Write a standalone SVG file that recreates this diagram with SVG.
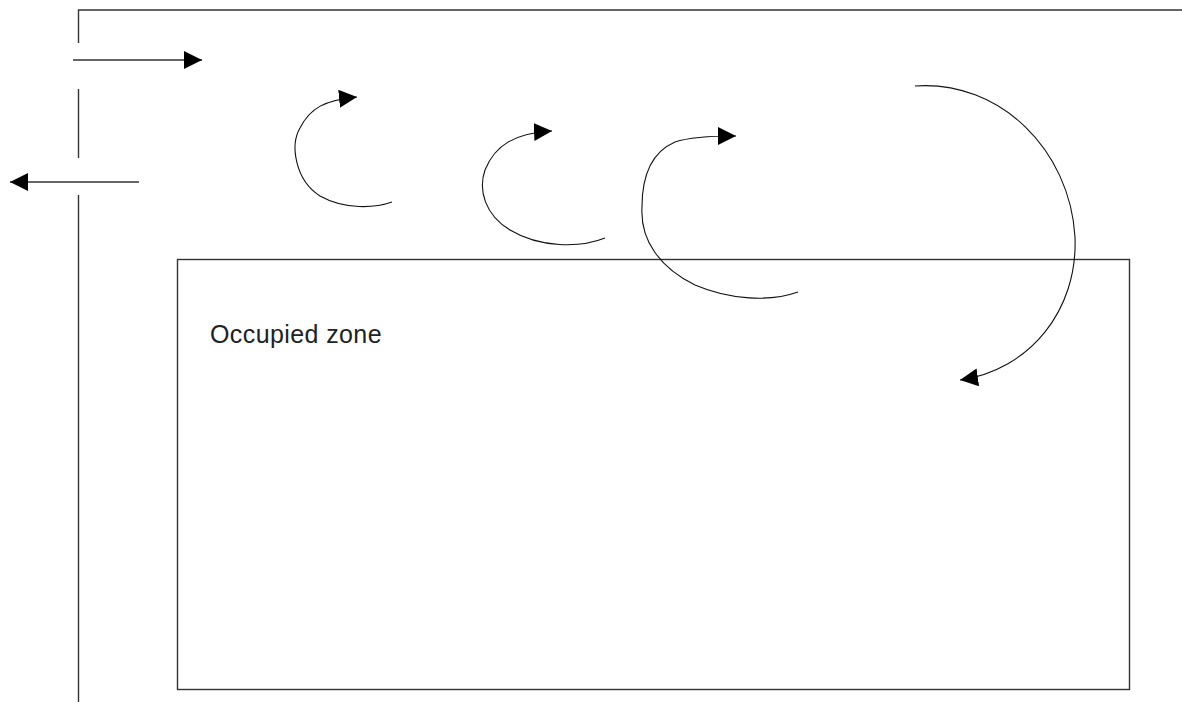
<svg xmlns="http://www.w3.org/2000/svg" width="1182" height="702" viewBox="0 0 1182 702">
<style>
.wall{fill:none;stroke:#333;stroke-width:1.4}
.flow{fill:none;stroke:#111;stroke-width:1.1}
.label{font-family:"Liberation Sans",Arial,sans-serif;font-size:25px;letter-spacing:0.4px;fill:#222}
</style>
<defs>
<marker id="ah" markerUnits="userSpaceOnUse" markerWidth="20" markerHeight="20" refX="18" refY="9" orient="auto">
<path d="M0,0 L18,9 L0,18 Z" fill="#000"/>
</marker>
</defs>
<rect width="1182" height="702" fill="#fff"/>
<g id="wall">
<path class="wall" d="M78.5,43 V10 H1182 M78.5,89 V158 M78.5,195 V702"/>
</g>
<g id="occupied-zone">
<rect class="wall" x="177.5" y="259.5" width="952" height="430"/>
<text class="label" x="210" y="343">Occupied zone</text>
</g>
<g id="connectors">
<path class="wall" d="M73,60 H202" marker-end="url(#ah)"/>
<path class="wall" d="M139,182 H10" marker-end="url(#ah)"/>
<path class="flow" d="M392,202 C375,208 345,210 320,196 C295,180 290,145 300,128 C310,108 325,100 357,97" marker-end="url(#ah)"/>
<path class="flow" d="M605,238 C580,248 540,248 510,230 C485,215 478,190 485,170 C495,145 515,133 552,131" marker-end="url(#ah)"/>
<path class="flow" d="M798,292 C770,302 730,300 695,285 C660,268 640,240 642,207 C642,175 652,152 675,142 C690,137 712,136 736,136" marker-end="url(#ah)"/>
<path class="flow" d="M915,86 C1000,80 1070,150 1075,237 C1078,310 1030,370 960,380" marker-end="url(#ah)"/>
</g>
</svg>
